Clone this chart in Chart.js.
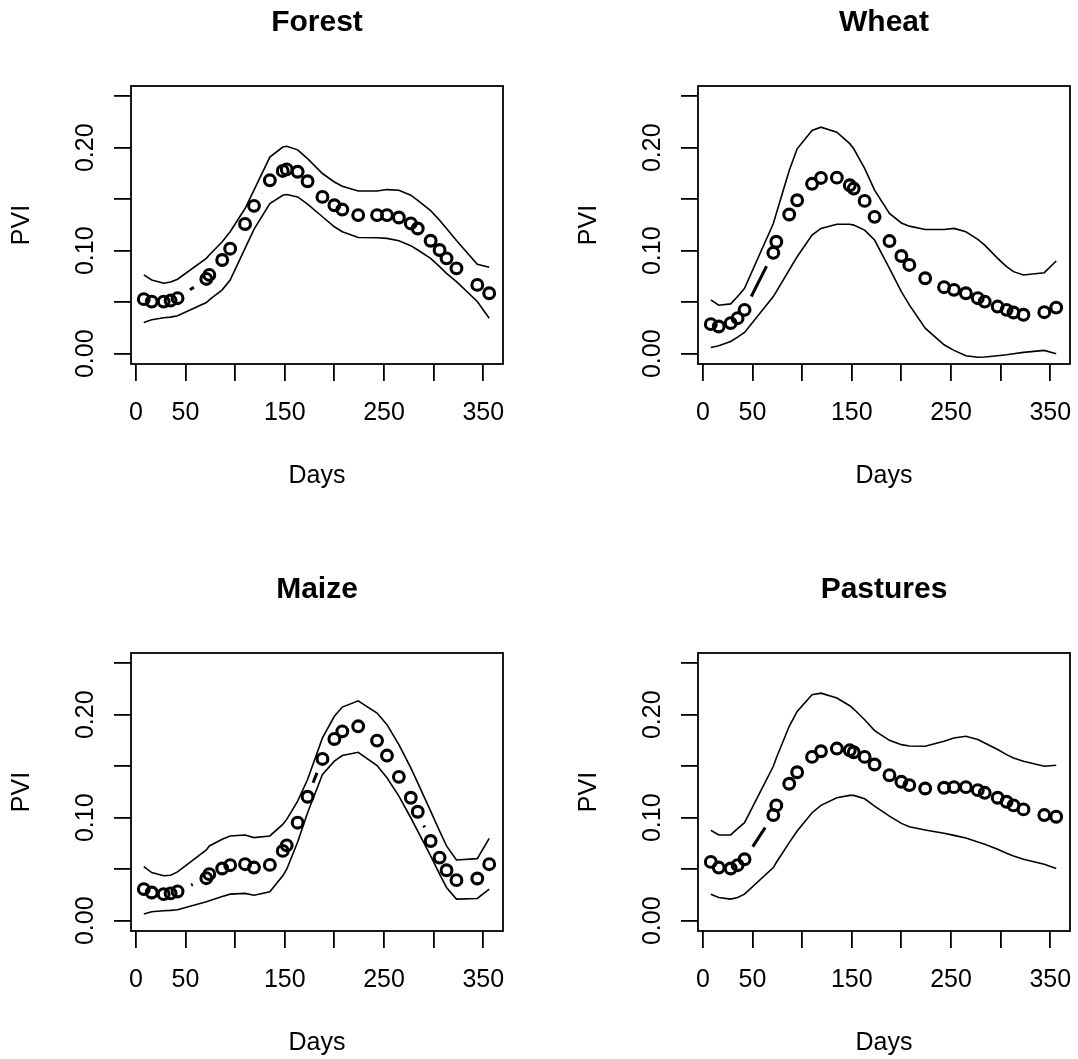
<!DOCTYPE html>
<html><head><meta charset="utf-8">
<script src="https://cdn.jsdelivr.net/npm/chart.js@4.4.1/dist/chart.umd.min.js"></script>
<style>
html,body{margin:0;padding:0;background:#fff;overflow:hidden;}
#wrap{position:relative;width:1078px;height:1059px;overflow:hidden;background:#fff;}
canvas{position:absolute;}
</style></head><body>
<div id="wrap">
<canvas id="c1" width="567" height="567" style="left:0px;top:0px"></canvas>
<canvas id="c2" width="567" height="567" style="left:567px;top:0px"></canvas>
<canvas id="c3" width="567" height="567" style="left:0px;top:567px"></canvas>
<canvas id="c4" width="567" height="567" style="left:567px;top:567px"></canvas>
</div>
<script>
// ---- data ----
const days = [8, 16, 28, 35, 42, 71, 74, 87, 95, 110, 119, 135, 148, 152, 163, 173, 188, 200, 208, 224, 243, 253, 265, 277, 284, 297, 306, 313, 323, 344, 356];

const forestMean  = [0.0530, 0.0506, 0.0506, 0.0516, 0.0539, 0.0726, 0.0765, 0.0910, 0.1020, 0.1260, 0.1436, 0.1684, 0.1775, 0.1790, 0.1767, 0.1675, 0.1523, 0.1442, 0.1400, 0.1346, 0.1346, 0.1346, 0.1323, 0.1265, 0.1216, 0.1097, 0.1007, 0.0926, 0.0829, 0.0668, 0.0587];
const forestUpper = [0.0765, 0.0716, 0.0684, 0.0697, 0.0723, 0.0926, 0.0958, 0.1087, 0.1184, 0.1410, 0.1588, 0.1910, 0.2007, 0.2014, 0.1980, 0.1894, 0.1750, 0.1668, 0.1626, 0.1580, 0.1580, 0.1594, 0.1588, 0.1540, 0.1490, 0.1390, 0.1297, 0.1217, 0.1100, 0.0868, 0.0839];
const forestLower = [0.0303, 0.0329, 0.0349, 0.0355, 0.0368, 0.0497, 0.0523, 0.0620, 0.0716, 0.1023, 0.1207, 0.1459, 0.1539, 0.1546, 0.1523, 0.1452, 0.1330, 0.1233, 0.1184, 0.1129, 0.1126, 0.1120, 0.1097, 0.1049, 0.1007, 0.0926, 0.0845, 0.0781, 0.0700, 0.0507, 0.0345];

const wheatMean  = [0.0287, 0.0264, 0.0297, 0.0345, 0.0426, 0.0980, 0.1087, 0.1352, 0.1490, 0.1650, 0.1707, 0.1710, 0.1636, 0.1604, 0.1484, 0.1329, 0.1094, 0.0949, 0.0862, 0.0733, 0.0646, 0.0620, 0.0587, 0.0539, 0.0506, 0.0458, 0.0426, 0.0400, 0.0378, 0.0403, 0.0448];
const wheatUpper = [0.0523, 0.0471, 0.0484, 0.0555, 0.0636, 0.1265, 0.1362, 0.1780, 0.1990, 0.2168, 0.2200, 0.2152, 0.2040, 0.1990, 0.1800, 0.1588, 0.1362, 0.1270, 0.1239, 0.1207, 0.1207, 0.1217, 0.1184, 0.1110, 0.1055, 0.0926, 0.0845, 0.0797, 0.0765, 0.0787, 0.0900];
const wheatLower = [0.0061, 0.0077, 0.0119, 0.0161, 0.0207, 0.0555, 0.0603, 0.0813, 0.0942, 0.1152, 0.1217, 0.1258, 0.1258, 0.1249, 0.1200, 0.1104, 0.0829, 0.0603, 0.0474, 0.0248, 0.0087, 0.0032, -0.0020, -0.0035, -0.0032, -0.0020, -0.0010, 0.0000, 0.0013, 0.0032, 0.0000];

const maizeMean  = [0.0307, 0.0274, 0.0258, 0.0265, 0.0284, 0.0413, 0.0452, 0.0507, 0.0539, 0.0549, 0.0516, 0.0542, 0.0678, 0.0732, 0.0952, 0.1204, 0.1571, 0.1765, 0.1839, 0.1888, 0.1749, 0.1604, 0.1397, 0.1194, 0.1058, 0.0774, 0.0613, 0.0490, 0.0394, 0.0410, 0.0549];
const maizeUpper = [0.0526, 0.0468, 0.0436, 0.0442, 0.0474, 0.0687, 0.0726, 0.0791, 0.0823, 0.0833, 0.0807, 0.0823, 0.0936, 0.0984, 0.1162, 0.1371, 0.1775, 0.1985, 0.2075, 0.2136, 0.2017, 0.1904, 0.1710, 0.1484, 0.1339, 0.1065, 0.0871, 0.0726, 0.0590, 0.0603, 0.0800];
const maizeLower = [0.0065, 0.0087, 0.0097, 0.0100, 0.0106, 0.0184, 0.0194, 0.0236, 0.0258, 0.0265, 0.0248, 0.0281, 0.0436, 0.0500, 0.0765, 0.1049, 0.1420, 0.1549, 0.1604, 0.1636, 0.1507, 0.1388, 0.1210, 0.1000, 0.0871, 0.0629, 0.0452, 0.0323, 0.0210, 0.0216, 0.0307];

const pastureMean  = [0.0571, 0.0516, 0.0507, 0.0539, 0.0597, 0.1026, 0.1120, 0.1330, 0.1442, 0.1591, 0.1646, 0.1672, 0.1655, 0.1636, 0.1591, 0.1517, 0.1413, 0.1349, 0.1317, 0.1284, 0.1291, 0.1297, 0.1297, 0.1268, 0.1242, 0.1194, 0.1155, 0.1120, 0.1081, 0.1026, 0.1010];
const pastureUpper = [0.0878, 0.0833, 0.0833, 0.0894, 0.0952, 0.1500, 0.1581, 0.1888, 0.2033, 0.2194, 0.2210, 0.2162, 0.2088, 0.2056, 0.1952, 0.1846, 0.1752, 0.1710, 0.1697, 0.1694, 0.1743, 0.1775, 0.1791, 0.1759, 0.1726, 0.1662, 0.1613, 0.1581, 0.1549, 0.1500, 0.1510];
const pastureLower = [0.0258, 0.0226, 0.0210, 0.0226, 0.0258, 0.0516, 0.0565, 0.0758, 0.0871, 0.1049, 0.1120, 0.1194, 0.1217, 0.1217, 0.1184, 0.1113, 0.1016, 0.0945, 0.0913, 0.0881, 0.0849, 0.0829, 0.0803, 0.0765, 0.0742, 0.0694, 0.0655, 0.0629, 0.0597, 0.0549, 0.0507];

const panelTitles = ["Forest", "Wheat", "Maize", "Pastures"];
const xTicks = [0, 50, 100, 150, 200, 250, 300, 350];
const xTickLabels = [0, 50, 150, 250, 350];
const yTicks = [0, 0.05, 0.10, 0.15, 0.20, 0.25];
const yTickLabels = [0, 0.10, 0.20];
const xAxisTitle = "Days";
const yAxisTitle = "PVI";

// ---- drawing ----
const FONT = "'Liberation Sans', Arial, Helvetica, sans-serif";
const GAP = 15; // R type="b" gap around points

const boxPlugin = {
  id: 'rbox',
  afterDraw(chart) {
    const a = chart.chartArea, ctx = chart.ctx;
    ctx.save();
    ctx.strokeStyle = '#000';
    ctx.lineWidth = 1.8;
    ctx.strokeRect(a.left, a.top, a.right - a.left, a.bottom - a.top);
    ctx.restore();
  }
};

function pts(vals) { return days.map((d, i) => ({x: d, y: vals[i]})); }

function makePanel(id, title, mean, upper, lower) {
  const boundStyle = {borderColor: '#000', borderWidth: 1.6, pointRadius: 0, tension: 0, fill: false};
  new Chart(document.getElementById(id), {
    type: 'line',
    data: {
      datasets: [
        Object.assign({data: pts(upper)}, boundStyle),
        Object.assign({data: pts(lower)}, boundStyle),
        {
          data: pts(mean),
          showLine: true,
          borderColor: '#000',
          borderWidth: 3,
          tension: 0,
          fill: false,
          pointRadius: 5.4,
          pointBorderWidth: 3.1,
          pointBorderColor: '#000',
          pointBackgroundColor: 'rgba(0,0,0,0)',
          segment: {
            borderDash: ctx => {
              const L = Math.hypot(ctx.p1.x - ctx.p0.x, ctx.p1.y - ctx.p0.y);
              return L > 2 * GAP ? [0, GAP, L - 2 * GAP, 1e4] : [0, 1e4];
            }
          }
        }
      ]
    },
    options: {
      responsive: false,
      animation: false,
      devicePixelRatio: 1,
      layout: {padding: {left: 0, top: 0, right: 64, bottom: 73}},
      plugins: {
        legend: {display: false},
        tooltip: {enabled: false},
        title: {
          display: true, text: title, color: '#000', fullSize: false,
          font: {family: FONT, size: 30, weight: 'bold', lineHeight: 1.2},
          padding: {top: 5, bottom: 45}
        }
      },
      scales: {
        x: {
          type: 'linear', min: -4.9, max: 369.9, bounds: 'data',
          afterBuildTicks: s => { s.ticks = xTicks.map(v => ({value: v})); },
          afterFit: s => { s.height = 130; },
          ticks: {
            autoSkip: false, maxRotation: 0, minRotation: 0, padding: 17, color: '#000',
            font: {family: FONT, size: 25},
            callback: v => xTickLabels.includes(v) ? String(v) : ''
          },
          grid: {display: true, drawOnChartArea: false, drawTicks: true, tickLength: 17, color: '#000', lineWidth: 1.8},
          border: {display: false},
          title: {display: true, text: xAxisTitle, color: '#000', font: {family: FONT, size: 25}, padding: {top: 0, bottom: 3}}
        },
        y: {
          type: 'linear', min: -0.01, max: 0.26, bounds: 'data',
          afterBuildTicks: s => { s.ticks = yTicks.map(v => ({value: v})); },
          afterFit: s => { s.width = 131; },
          ticks: {
            autoSkip: false, minRotation: 90, maxRotation: 90, crossAlign: 'center', padding: 4, color: '#000',
            font: {family: FONT, size: 25},
            callback: v => yTickLabels.some(t => Math.abs(t - v) < 1e-9) ? v.toFixed(2) : ''
          },
          grid: {display: true, drawOnChartArea: false, drawTicks: true, tickLength: 17, color: '#000', lineWidth: 1.8},
          border: {display: false},
          title: {display: true, text: yAxisTitle, color: '#000', font: {family: FONT, size: 25}, padding: {top: 7, bottom: 0}}
        }
      }
    },
    plugins: [boxPlugin]
  });
}

makePanel('c1', panelTitles[0], forestMean, forestUpper, forestLower);
makePanel('c2', panelTitles[1], wheatMean, wheatUpper, wheatLower);
makePanel('c3', panelTitles[2], maizeMean, maizeUpper, maizeLower);
makePanel('c4', panelTitles[3], pastureMean, pastureUpper, pastureLower);
</script>
</body></html>
